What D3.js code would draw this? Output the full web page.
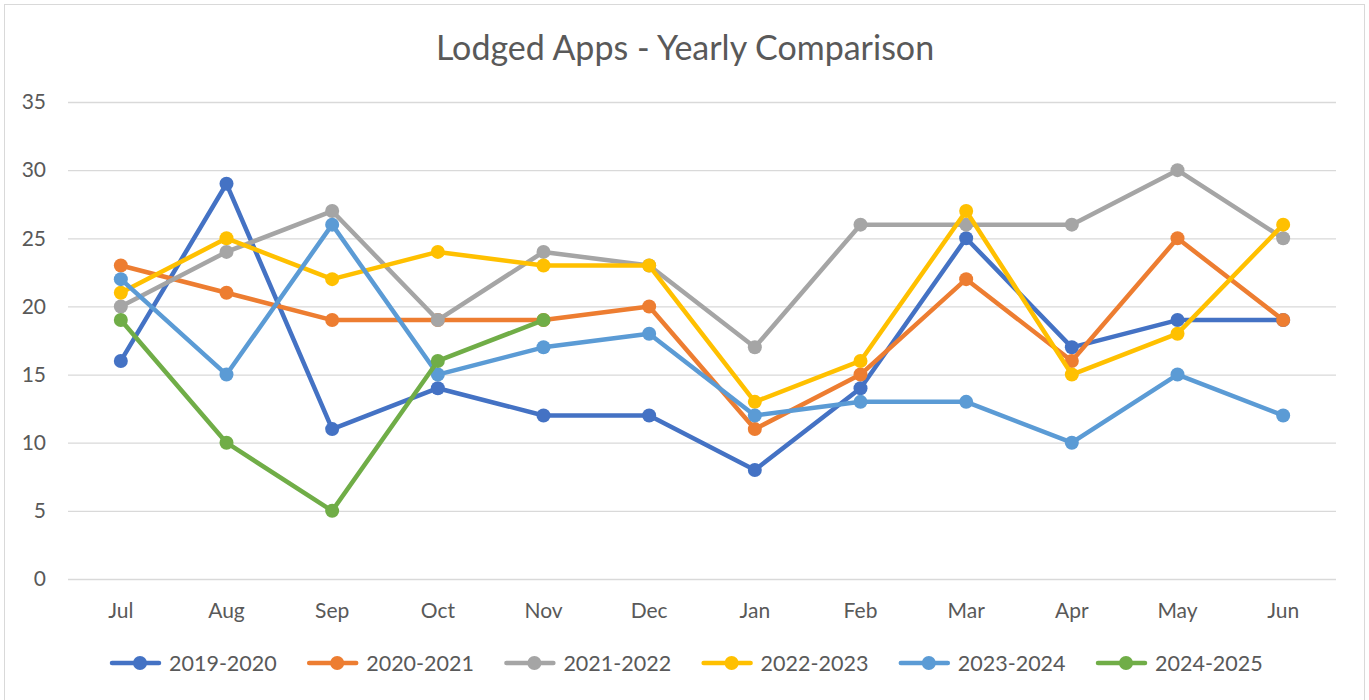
<!DOCTYPE html>
<html>
<head>
<meta charset="utf-8">
<script src="https://cdn.jsdelivr.net/npm/d3@7"></script>
<style>
  body { margin: 0; background: #fff; }
  text { font-family: Lato, "Noto Sans", sans-serif; fill: #595959; }
</style>
</head>
<body>
<div id="caja"></div>
<script>
// datos del grafico
var meses = ["Jul", "Aug", "Sep", "Oct", "Nov", "Dec", "Jan", "Feb", "Mar", "Apr", "May", "Jun"];
var s2019 = [16, 29, 11, 14, 12, 12, 8, 14, 25, 17, 19, 19];
var s2020 = [23, 21, 19, 19, 19, 20, 11, 15, 22, 16, 25, 19];
var s2021 = [20, 24, 27, 19, 24, 23, 17, 26, 26, 26, 30, 25];
var s2022 = [21, 25, 22, 24, 23, 23, 13, 16, 27, 15, 18, 26];
var s2023 = [22, 15, 26, 15, 17, 18, 12, 13, 13, 10, 15, 12];
var s2024 = [19, 10, 5, 16, 19];
var nombres = ["2019-2020", "2020-2021", "2021-2022", "2022-2023", "2023-2024", "2024-2025"];
var colores = ["#4472c4", "#ed7d31", "#a5a5a5", "#ffc000", "#5b9bd5", "#70ad47"];
var ticksY = [0, 5, 10, 15, 20, 25, 30, 35];

var series = [s2019, s2020, s2021, s2022, s2023, s2024];

var w = 1369, h = 700;

var chart = d3.select('#caja')
	.append('svg')
	.attr('width', w)
	.attr('height', h);

// borde del area del grafico
chart.append("rect")
	.attr("x", 4.5).attr("y", 4.5)
	.attr("width", 1360).attr("height", 700)
	.attr("fill", "#fff")
	.attr("stroke", "#d9d9d9");

var x = d3.scaleBand().domain(meses).range([68, 1336]);
var y = d3.scaleLinear().domain([0, 35]).range([579, 102]);

// lineas de la grilla
chart.append("g")
	.selectAll("line")
	.data(ticksY)
	.enter()
	.append("line")
	.attr("x1", 68).attr("x2", 1336)
	.attr("y1", function(d) { return y(d) + 0.5; })
	.attr("y2", function(d) { return y(d) + 0.5; })
	.attr("stroke", "#d9d9d9")
	.attr("stroke-width", 1.3);

// eje y
var ejeY = chart.append("g")
	.attr("transform", "translate(58,0)")
	.call(d3.axisLeft(y).tickValues(ticksY).tickSize(0).tickPadding(12));
ejeY.select(".domain").remove();
ejeY.selectAll("text").style("font-size", "21px").attr("fill", "#595959");

// eje x
var ejeX = chart.append("g")
	.attr("transform", "translate(0,603)")
	.call(d3.axisBottom(x).tickSize(0).tickPadding(0));
ejeX.select(".domain").remove();
ejeX.selectAll("text").style("font-size", "21px").attr("fill", "#595959");

// lineas y puntos
var linea = d3.line()
	.x(function(d, i) { return x(meses[i]) + x.bandwidth() / 2; })
	.y(function(d) { return y(d); });

var grupos = chart.append("g")
	.selectAll("g")
	.data(series)
	.enter()
	.append("g");

grupos.append("path")
	.attr("d", function(d) { return linea(d); })
	.attr("fill", "none")
	.attr("stroke", function(d, i) { return colores[i]; })
	.attr("stroke-width", 4.5)
	.attr("stroke-linejoin", "round")
	.attr("stroke-linecap", "round");

grupos.each(function(d, i) {
	d3.select(this).selectAll("circle")
		.data(d)
		.enter()
		.append("circle")
		.attr("cx", function(v, j) { return x(meses[j]) + x.bandwidth() / 2; })
		.attr("cy", function(v) { return y(v); })
		.attr("r", 7)
		.attr("fill", colores[i]);
});

// titulo
chart.append("text")
	.text("Lodged Apps - Yearly Comparison")
	.attr("x", 685)
	.attr("y", 60)
	.attr("text-anchor", "middle")
	.style("font-size", "34px");

// leyenda
var leyenda = chart.append("g")
	.selectAll("g")
	.data(nombres)
	.enter()
	.append("g")
	.attr("transform", function(d, i) { return "translate(" + (112 + i * 197.2) + ",663)"; });

leyenda.append("line")
	.attr("x1", 0).attr("x2", 47)
	.attr("stroke", function(d, i) { return colores[i]; })
	.attr("stroke-width", 4.5)
	.attr("stroke-linecap", "round");
leyenda.append("circle")
	.attr("cx", 28).attr("r", 7)
	.attr("fill", function(d, i) { return colores[i]; });
leyenda.append("text")
	.text(function(d) { return d; })
	.attr("x", 57)
	.attr("y", 7.5)
	.style("font-size", "21.5px");
</script>
</body>
</html>
